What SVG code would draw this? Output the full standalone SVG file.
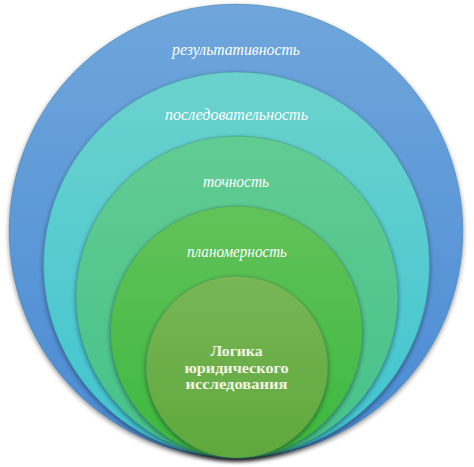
<svg xmlns="http://www.w3.org/2000/svg" width="474" height="467" viewBox="0 0 474 467">
  <defs>
    <linearGradient id="gBlue" x1="0" y1="0" x2="0" y2="1">
      <stop offset="0" stop-color="#6fa6db"/>
      <stop offset="1" stop-color="#4a8ad4"/>
    </linearGradient>
    <linearGradient id="gCyan" x1="0" y1="0" x2="0" y2="1">
      <stop offset="0" stop-color="#6bd2cc"/>
      <stop offset="1" stop-color="#3fc4d2"/>
    </linearGradient>
    <linearGradient id="gTeal" x1="0" y1="0" x2="0" y2="1">
      <stop offset="0" stop-color="#62cb92"/>
      <stop offset="1" stop-color="#45c28a"/>
    </linearGradient>
    <linearGradient id="gGreen" x1="0" y1="0" x2="0" y2="1">
      <stop offset="0" stop-color="#62c25a"/>
      <stop offset="1" stop-color="#3cb83e"/>
    </linearGradient>
    <linearGradient id="gOlive" x1="0" y1="0" x2="0" y2="1">
      <stop offset="0" stop-color="#78b656"/>
      <stop offset="1" stop-color="#5fa83c"/>
    </linearGradient>
    <filter id="sh" x="-10%" y="-10%" width="120%" height="120%">
      <feGaussianBlur in="SourceAlpha" stdDeviation="2.5"/>
      <feOffset dy="2" result="b"/>
      <feComponentTransfer><feFuncA type="linear" slope="0.45"/></feComponentTransfer>
      <feMerge><feMergeNode/><feMergeNode in="SourceGraphic"/></feMerge>
    </filter>
  </defs>
  <style>
    .ring { stroke: #2f6a7a; stroke-opacity: 0.35; stroke-width: 0.8; filter: url(#sh); }
    .lbl { font-family: "Liberation Serif", "DejaVu Serif", serif; font-style: italic; font-size: 16.5px; fill: #ffffff; text-anchor: middle; }
    .core { font-family: "Liberation Serif", "DejaVu Serif", serif; font-weight: bold; font-size: 15.5px; fill: #f2f4e6; text-anchor: middle; }
  </style>
  <rect width="474" height="467" fill="#ffffff"/>
  <g id="n-result">
    <circle class="ring" cx="236" cy="231" r="227" fill="url(#gBlue)"/>
    <text class="lbl" x="236" y="55" textLength="128" lengthAdjust="spacingAndGlyphs">результативность</text>
  </g>
  <g id="n-posled">
    <circle class="ring" cx="236.5" cy="265" r="193" fill="url(#gCyan)"/>
    <text class="lbl" x="236.5" y="120" textLength="143" lengthAdjust="spacingAndGlyphs">последовательность</text>
  </g>
  <g id="n-tochn">
    <circle class="ring" cx="237" cy="297" r="161" fill="url(#gTeal)"/>
    <text class="lbl" x="236" y="187" textLength="66" lengthAdjust="spacingAndGlyphs">точность</text>
  </g>
  <g id="n-planom">
    <circle class="ring" cx="236.5" cy="332" r="126" fill="url(#gGreen)"/>
    <text class="lbl" x="237" y="257" textLength="100" lengthAdjust="spacingAndGlyphs">планомерность</text>
  </g>
  <g id="n-core">
    <circle class="ring" cx="237" cy="367" r="91" fill="url(#gOlive)"/>
    <text class="core" x="236.5" y="356" textLength="52" lengthAdjust="spacingAndGlyphs">Логика</text>
    <text class="core" x="236.5" y="373" textLength="104" lengthAdjust="spacingAndGlyphs">юридического</text>
    <text class="core" x="236.5" y="389" textLength="102" lengthAdjust="spacingAndGlyphs">исследования</text>
  </g>
  <g id="connectors"/>
</svg>
